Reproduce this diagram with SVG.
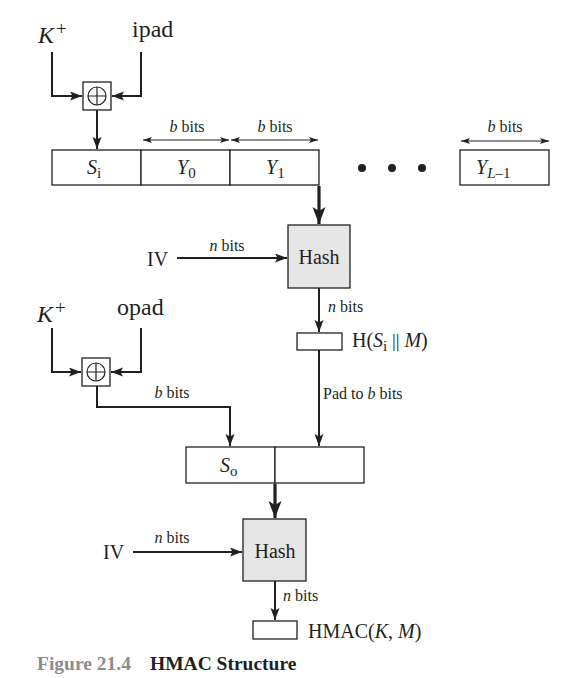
<svg xmlns="http://www.w3.org/2000/svg" width="565" height="678" viewBox="0 0 565 678">
<style>
  text { font-family: "Liberation Serif", "Times New Roman", serif; fill: #231f20; }
  .big { font-size: 24px; }
  .mid { font-size: 20px; }
  .sm { font-size: 16px; }
  .sup { font-size: 19px; }
  .it { font-style: italic; }
  .box { fill: #ffffff; stroke: #231f20; stroke-width: 1.3; }
  .hash { fill: #e6e6e6; stroke: #231f20; stroke-width: 1.3; }
  .ln { fill: none; stroke: #231f20; stroke-width: 2; }
  .thin { fill: none; stroke: #231f20; stroke-width: 1; }
  .thick { fill: none; stroke: #231f20; stroke-width: 3.2; }
  .cap { font-size: 19.5px; font-weight: bold; }
</style>
<defs>
  <marker id="ah" markerUnits="userSpaceOnUse" markerWidth="13" markerHeight="10" refX="12" refY="4.5" orient="auto">
    <path d="M0,0 L12,4.5 L0,9 L2.5,4.5 z" fill="#231f20"/>
  </marker>
  <marker id="ahs" markerUnits="userSpaceOnUse" markerWidth="10" markerHeight="8" refX="9" refY="3" orient="auto-start-reverse">
    <path d="M0,0 L9,3 L0,6 L2,3 z" fill="#231f20"/>
  </marker>
  <marker id="aht" markerUnits="userSpaceOnUse" markerWidth="18" markerHeight="14" refX="17" refY="6.5" orient="auto">
    <path d="M0,0 L17,6.5 L0,13 L4,6.5 z" fill="#231f20"/>
  </marker>
</defs>

<g id="connectors">
  <path class="ln" d="M52,52 V96 H82" marker-end="url(#ah)"/>
  <path class="ln" d="M141,52 V96 H112" marker-end="url(#ah)"/>
  <path class="ln" d="M97,110 V149" marker-end="url(#ah)"/>
  <path class="thin" d="M143,140 H229" marker-start="url(#ahs)" marker-end="url(#ahs)"/>
  <path class="thin" d="M231,140 H318" marker-start="url(#ahs)" marker-end="url(#ahs)"/>
  <path class="thin" d="M461,141 H549" marker-start="url(#ahs)" marker-end="url(#ahs)"/>
  <path class="thick" d="M319,186 V224" marker-end="url(#aht)"/>
  <path class="ln" d="M177,258 H287" marker-end="url(#ah)"/>
  <path class="ln" d="M319,288 V332" marker-end="url(#ah)"/>
  <path class="ln" d="M319,350 V446" marker-end="url(#ah)"/>
  <path class="ln" d="M52,328 V372 H81" marker-end="url(#ah)"/>
  <path class="ln" d="M141,328 V372 H111" marker-end="url(#ah)"/>
  <path class="ln" d="M97,386 V407 H230 V446" marker-end="url(#ah)"/>
  <path class="thick" d="M275,484 V518" marker-end="url(#aht)"/>
  <path class="ln" d="M133,552 H242" marker-end="url(#ah)"/>
  <path class="ln" d="M275,581 V620" marker-end="url(#ah)"/>
</g>

<g id="kplus1">
  <text class="big it" x="38" y="43">K</text>
  <text class="sup" x="56" y="35">+</text>
</g>
<g id="ipad"><text class="big" x="132" y="37">ipad</text></g>
<g id="xor1">
  <rect class="box" x="83" y="82" width="28" height="28"/>
  <circle cx="97" cy="96" r="9" fill="none" stroke="#231f20" stroke-width="1.2"/>
  <path d="M88,96 H106 M97,87 V105" stroke="#231f20" stroke-width="1.2"/>
</g>

<g id="register">
  <rect class="box" x="52" y="150" width="89" height="35"/>
  <rect class="box" x="141" y="150" width="89" height="35"/>
  <rect class="box" x="230" y="150" width="89" height="35"/>
  <text class="mid" x="87" y="174"><tspan class="it">S</tspan><tspan font-size="15" dy="4">i</tspan></text>
  <text class="mid" x="177" y="174"><tspan class="it">Y</tspan><tspan font-size="15" dy="4">0</tspan></text>
  <text class="mid" x="266" y="174"><tspan class="it">Y</tspan><tspan font-size="15" dy="4">1</tspan></text>
  <text class="sm" x="187" y="132" text-anchor="middle"><tspan class="it">b</tspan> bits</text>
  <text class="sm" x="275" y="132" text-anchor="middle"><tspan class="it">b</tspan> bits</text>
</g>
<g id="dots">
  <circle cx="362" cy="168" r="4" fill="#231f20"/>
  <circle cx="392" cy="168" r="4" fill="#231f20"/>
  <circle cx="422" cy="168" r="4" fill="#231f20"/>
</g>
<g id="yl1">
  <rect class="box" x="460" y="150" width="89" height="35"/>
  <text class="mid" x="476" y="174"><tspan class="it">Y</tspan><tspan class="it" font-size="15" dy="4">L</tspan><tspan font-size="15">–1</tspan></text>
  <text class="sm" x="505" y="132" text-anchor="middle"><tspan class="it">b</tspan> bits</text>
</g>

<g id="iv1">
  <text class="mid" x="147" y="266">IV</text>
  <text class="sm" x="227" y="251" text-anchor="middle"><tspan class="it">n</tspan> bits</text>
</g>
<g id="hash1">
  <rect class="hash" x="288" y="225" width="62" height="63"/>
  <text class="mid" x="319" y="264" text-anchor="middle">Hash</text>
  <text class="sm" x="328" y="312"><tspan class="it">n</tspan> bits</text>
</g>
<g id="hout">
  <rect class="box" x="297" y="333" width="45" height="17"/>
  <text class="mid" x="352" y="347">H(<tspan class="it">S</tspan><tspan font-size="15" dy="4">i</tspan><tspan font-size="19" dy="-4"> || </tspan><tspan class="it">M</tspan>)</text>
  <text class="sm" x="323" y="399">Pad to <tspan class="it">b</tspan> bits</text>
</g>

<g id="kplus2">
  <text class="big it" x="37" y="322">K</text>
  <text class="sup" x="55" y="314">+</text>
</g>
<g id="opad"><text class="big" x="117" y="315">opad</text></g>
<g id="xor2">
  <rect class="box" x="82" y="358" width="28" height="28"/>
  <circle cx="96" cy="372" r="9" fill="none" stroke="#231f20" stroke-width="1.2"/>
  <path d="M87,372 H105 M96,363 V381" stroke="#231f20" stroke-width="1.2"/>
  <text class="sm" x="172" y="398" text-anchor="middle"><tspan class="it">b</tspan> bits</text>
</g>

<g id="so">
  <rect class="box" x="186" y="447" width="89" height="36"/>
  <rect class="box" x="275" y="447" width="89" height="36"/>
  <text class="mid" x="220" y="472"><tspan class="it">S</tspan><tspan font-size="15" dy="4">o</tspan></text>
</g>

<g id="iv2">
  <text class="mid" x="103" y="559">IV</text>
  <text class="sm" x="172" y="543" text-anchor="middle"><tspan class="it">n</tspan> bits</text>
</g>
<g id="hash2">
  <rect class="hash" x="243" y="519" width="63" height="62"/>
  <text class="mid" x="275" y="558" text-anchor="middle">Hash</text>
  <text class="sm" x="283" y="601"><tspan class="it">n</tspan> bits</text>
</g>
<g id="hmac">
  <rect class="box" x="253" y="621" width="44" height="18"/>
  <text class="mid" x="308" y="638">HMAC(<tspan class="it">K</tspan>, <tspan class="it">M</tspan>)</text>
</g>

<g id="caption">
  <text class="cap" x="37" y="670" style="fill:#8c8c8c">Figure 21.4</text>
  <text class="cap" x="150" y="670">HMAC Structure</text>
</g>
</svg>
